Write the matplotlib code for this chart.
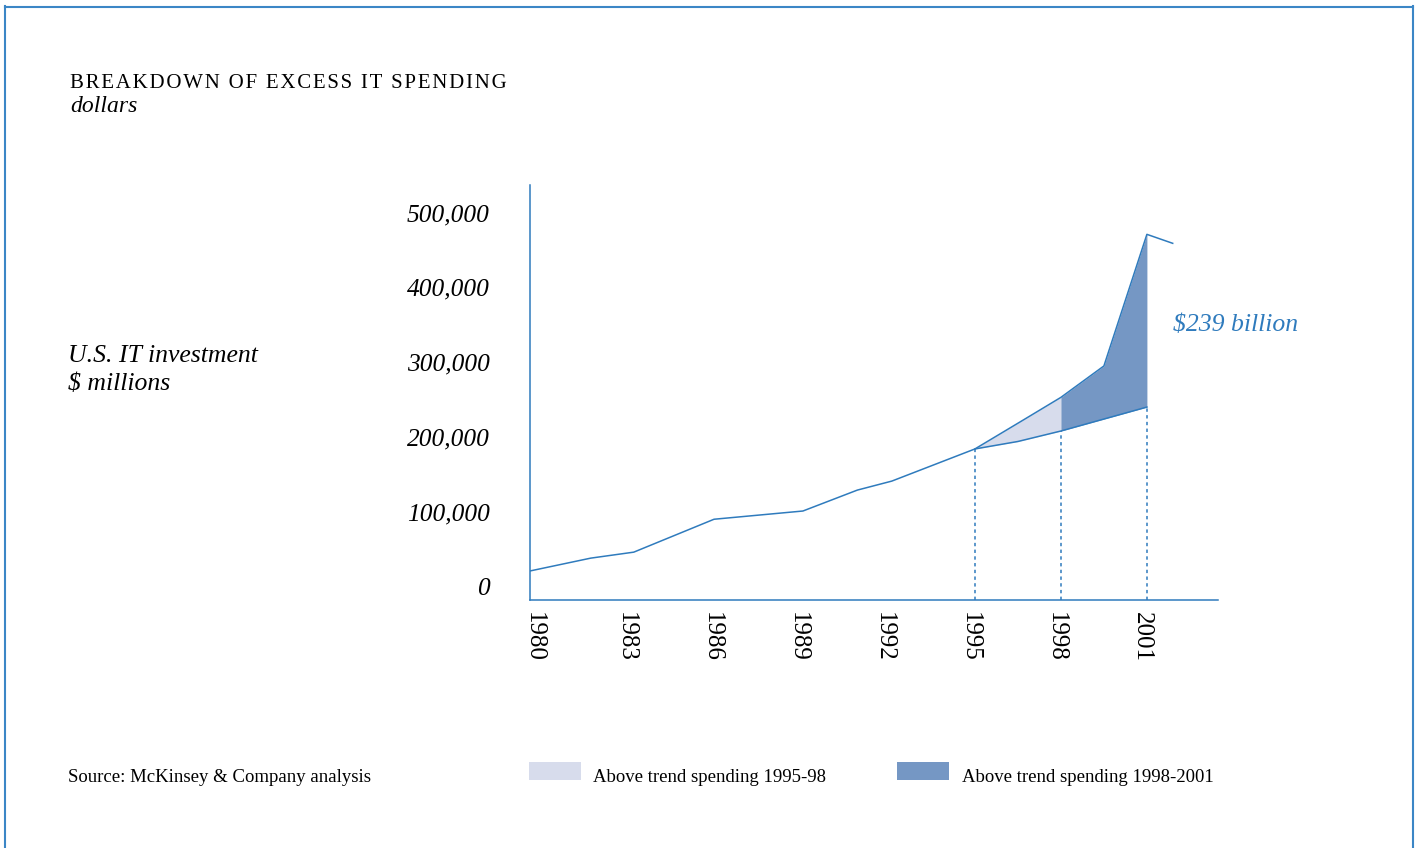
import numpy as np
import matplotlib
matplotlib.use("Agg")
import matplotlib.pyplot as plt
from matplotlib.lines import Line2D
from matplotlib.patches import Rectangle
from matplotlib.transforms import ScaledTranslation

## Données
years = [1979.5, 1981.6, 1983.1, 1985.9, 1989.0, 1990.9, 1992.1, 1995.0,
         1996.7, 1998.0, 1999.5, 2001.0, 2001.9]
invest = [39000, 56000, 64000, 108000, 119000, 147000, 159000, 202000,
          241000, 271000, 313000, 489000, 477000]

trend_years = [1995.0, 1996.5, 1998.0, 2001.0]
trend = [202000, 212000, 226000, 258000]

tick_years = [1980, 1983, 1986, 1989, 1992, 1995, 1998, 2001]
ytick_vals = [0, 100000, 200000, 300000, 400000, 500000]
ytick_labels = ["0", "100,000", "200,000", "300,000", "400,000", "500,000"]
marks = [1995, 1998, 2001]

blue = "#2f7bbd"
light = "#d7dcec"
dark = "#7597c4"
serif = "Liberation Serif"

W, H = 1419, 848
fig = plt.figure(figsize=(W / 100, H / 100), dpi=100)
ax = fig.add_axes([530 / W, (H - 600) / H, (1218 - 530) / W, (600 - 185) / H])

ax.plot(years, invest, color=blue, lw=1.1)
ax.plot(trend_years, trend, color=blue, lw=1.1)

# zones au-dessus de la tendance
xs = np.union1d(years, trend_years)
xs = xs[(xs >= 1995) & (xs <= 2001)]
up = np.interp(xs, years, invest)
tr = np.interp(xs, trend_years, trend)
ax.fill_between(xs, tr, up, where=xs <= 1998, color=light, lw=0)
ax.fill_between(xs, tr, up, where=xs >= 1998, color=dark, lw=0)

for y in marks:
    top = min(np.interp(y, years, invest), np.interp(y, trend_years, trend))
    ax.plot([y, y], [0, top], color=blue, lw=1.1, ls=(0, (2.2, 2.2)))

ax.text(2001.9, 368000, "$239 billion", color=blue, fontsize=18.5,
        family=serif, style="italic", ha="left", va="center")

ax.set_xlim(1979.48, 2003.48)
ax.set_ylim(0, 555000)
for s in ["top", "right"]:
    ax.spines[s].set_visible(False)
for s in ["left", "bottom"]:
    ax.spines[s].set_color(blue)
    ax.spines[s].set_linewidth(1.1)

ax.set_xticks(tick_years)
ax.set_xticklabels([str(t) for t in tick_years], rotation=-90,
                   fontsize=18, family=serif)
ax.set_yticks(ytick_vals)
ax.set_yticklabels(ytick_labels, fontsize=18.3, family=serif, style="italic")
ax.tick_params(axis="x", length=0, pad=9)
ax.tick_params(axis="y", length=0, pad=29)
for lab in ax.get_yticklabels():
    lab.set_verticalalignment("bottom")
for i, lab in enumerate(ax.get_xticklabels()):
    dx = -11 if i == 0 else -5
    lab.set_transform(lab.get_transform() + ScaledTranslation(dx / 100, 0, fig.dpi_scale_trans))

# titre et textes
title = "BREAKDOWN OF EXCESS IT SPENDING"
fig.text(70 / W, 1 - 83 / H, "\u200a".join(title), fontsize=15, family=serif,
         ha="left", va="center")
fig.text(70 / W, 1 - 106 / H, "dollars", fontsize=17, family=serif,
         style="italic", ha="left", va="center")
fig.text(68 / W, 1 - 356 / H, "U.S. IT investment", fontsize=18.5, family=serif,
         style="italic", ha="left", va="center")
fig.text(68 / W, 1 - 384 / H, "$ millions", fontsize=18.5, family=serif,
         style="italic", ha="left", va="center")
fig.text(68 / W, 1 - 777 / H, "Source: McKinsey & Company analysis",
         fontsize=13.5, family=serif, ha="left", va="center")

# légende
fig.add_artist(Rectangle((529 / W, 1 - 780 / H), 52 / W, 18 / H,
                         transform=fig.transFigure, color=light, lw=0))
fig.text(593 / W, 1 - 777 / H, "Above trend spending 1995-98",
         fontsize=13.5, family=serif, ha="left", va="center")
fig.add_artist(Rectangle((897 / W, 1 - 780 / H), 52 / W, 18 / H,
                         transform=fig.transFigure, color=dark, lw=0))
fig.text(962 / W, 1 - 777 / H, "Above trend spending 1998-2001",
         fontsize=13.5, family=serif, ha="left", va="center")

# cadre
fc = "#3b86c6"
fig.add_artist(Line2D([5 / W, 5 / W], [0, 1 - 6 / H], color=fc, lw=1.5))
fig.add_artist(Line2D([5 / W, 1413 / W], [1 - 6.5 / H, 1 - 6.5 / H], color=fc, lw=1.5))
fig.add_artist(Line2D([1413 / W, 1413 / W], [0, 1 - 6 / H], color=fc, lw=1.5))

fig.savefig("out.png", dpi=100)
